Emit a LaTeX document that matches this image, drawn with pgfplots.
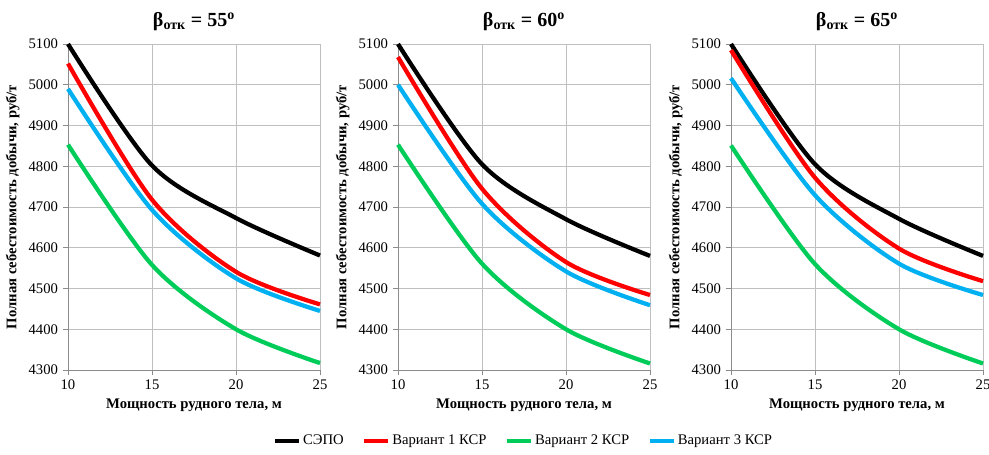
\documentclass[border=0pt]{standalone}
\usepackage{fontspec}
\setmainfont{Liberation Serif}
\usepackage{pgfplots}
\pgfplotsset{compat=1.18}

\definecolor{cgreen}{RGB}{0,204,90}
\definecolor{cblue}{RGB}{0,176,240}
\definecolor{gridc}{RGB}{191,191,191}
\definecolor{axc}{RGB}{140,140,140}

\pgfplotsset{
  panel/.style={
    scale only axis, width=189pt, height=244.5pt,
    anchor=south west,
    xmin=10, xmax=25, ymin=4300, ymax=5100,
    xtick={10,15,20,25}, xticklabels={10,15,20,25},
    ytick={4300,4400,...,5100},
    yticklabels={4300,4400,4500,4600,4700,4800,4900,5000,5100},
    grid=major, grid style={gridc, line width=0.6pt},
    axis lines*=left, axis line style={axc, line width=0.6pt},
    tick align=outside, major tick length=4pt,
    tick style={axc, line width=0.6pt},
    ticklabel style={font=\rmfamily\fontsize{11}{12}\selectfont},
    xlabel={Мощность рудного тела, м},
    ylabel={Полная себестоимость добычи, руб/т},
    label style={font=\fontsize{11}{12}\selectfont\bfseries},
    title style={font=\fontsize{15}{17}\selectfont\bfseries, at={(0.5,1)}, anchor=base, yshift=7pt},
    every axis plot/.append style={line width=3.2pt, smooth, tension=0.5},
    clip=false,
  },
}

\begin{document}
\begin{tikzpicture}

\begin{axis}[panel, at={(51pt,-277.5pt)},
  title={β\textsubscript{отк} = 55\textsuperscript{о}}]
\addplot[black] coordinates {(10,5100) (15,4802) (20,4673) (25,4581)};
\addplot[red] coordinates {(10,5052) (15,4718) (20,4541) (25,4461)};
\addplot[cgreen] coordinates {(10,4853) (15,4558) (20,4400) (25,4317)};
\addplot[cblue] coordinates {(10,4990) (15,4693) (20,4525) (25,4445)};
\end{axis}

\begin{axis}[panel, at={(298.5pt,-277.5pt)},
  title={β\textsubscript{отк} = 60\textsuperscript{о}},
  legend columns=4,
  legend style={at={(0.5,-0.218)}, anchor=center, draw=none,
    font=\fontsize{11}{12}\selectfont,
    /tikz/every even column/.append style={column sep=12pt}},
  legend image code/.code={\draw[#1, line width=2.4pt] (0pt,0pt) -- (18pt,0pt);},
  legend cell align=left]
\addplot[black] coordinates {(10,5100) (15,4805) (20,4670) (25,4580)};
\addlegendentry{СЭПО}
\addplot[red] coordinates {(10,5068) (15,4745) (20,4565) (25,4484)};
\addlegendentry{Вариант 1 КСР}
\addplot[cgreen] coordinates {(10,4853) (15,4561) (20,4400) (25,4316)};
\addlegendentry{Вариант 2 КСР}
\addplot[cblue] coordinates {(10,5000) (15,4708) (20,4542) (25,4459)};
\addlegendentry{Вариант 3 КСР}
\end{axis}

\begin{axis}[panel, at={(548.25pt,-277.5pt)},
  title={β\textsubscript{отк} = 65\textsuperscript{о}}]
\addplot[black] coordinates {(10,5100) (15,4805) (20,4671) (25,4580)};
\addplot[red] coordinates {(10,5085) (15,4772) (20,4598) (25,4518)};
\addplot[cgreen] coordinates {(10,4851) (15,4560) (20,4400) (25,4316)};
\addplot[cblue] coordinates {(10,5016) (15,4729) (20,4561) (25,4484)};
\end{axis}

\pgfresetboundingbox
\path (0pt,0pt) rectangle (741.75pt,-340.5pt);
\end{tikzpicture}
\end{document}
